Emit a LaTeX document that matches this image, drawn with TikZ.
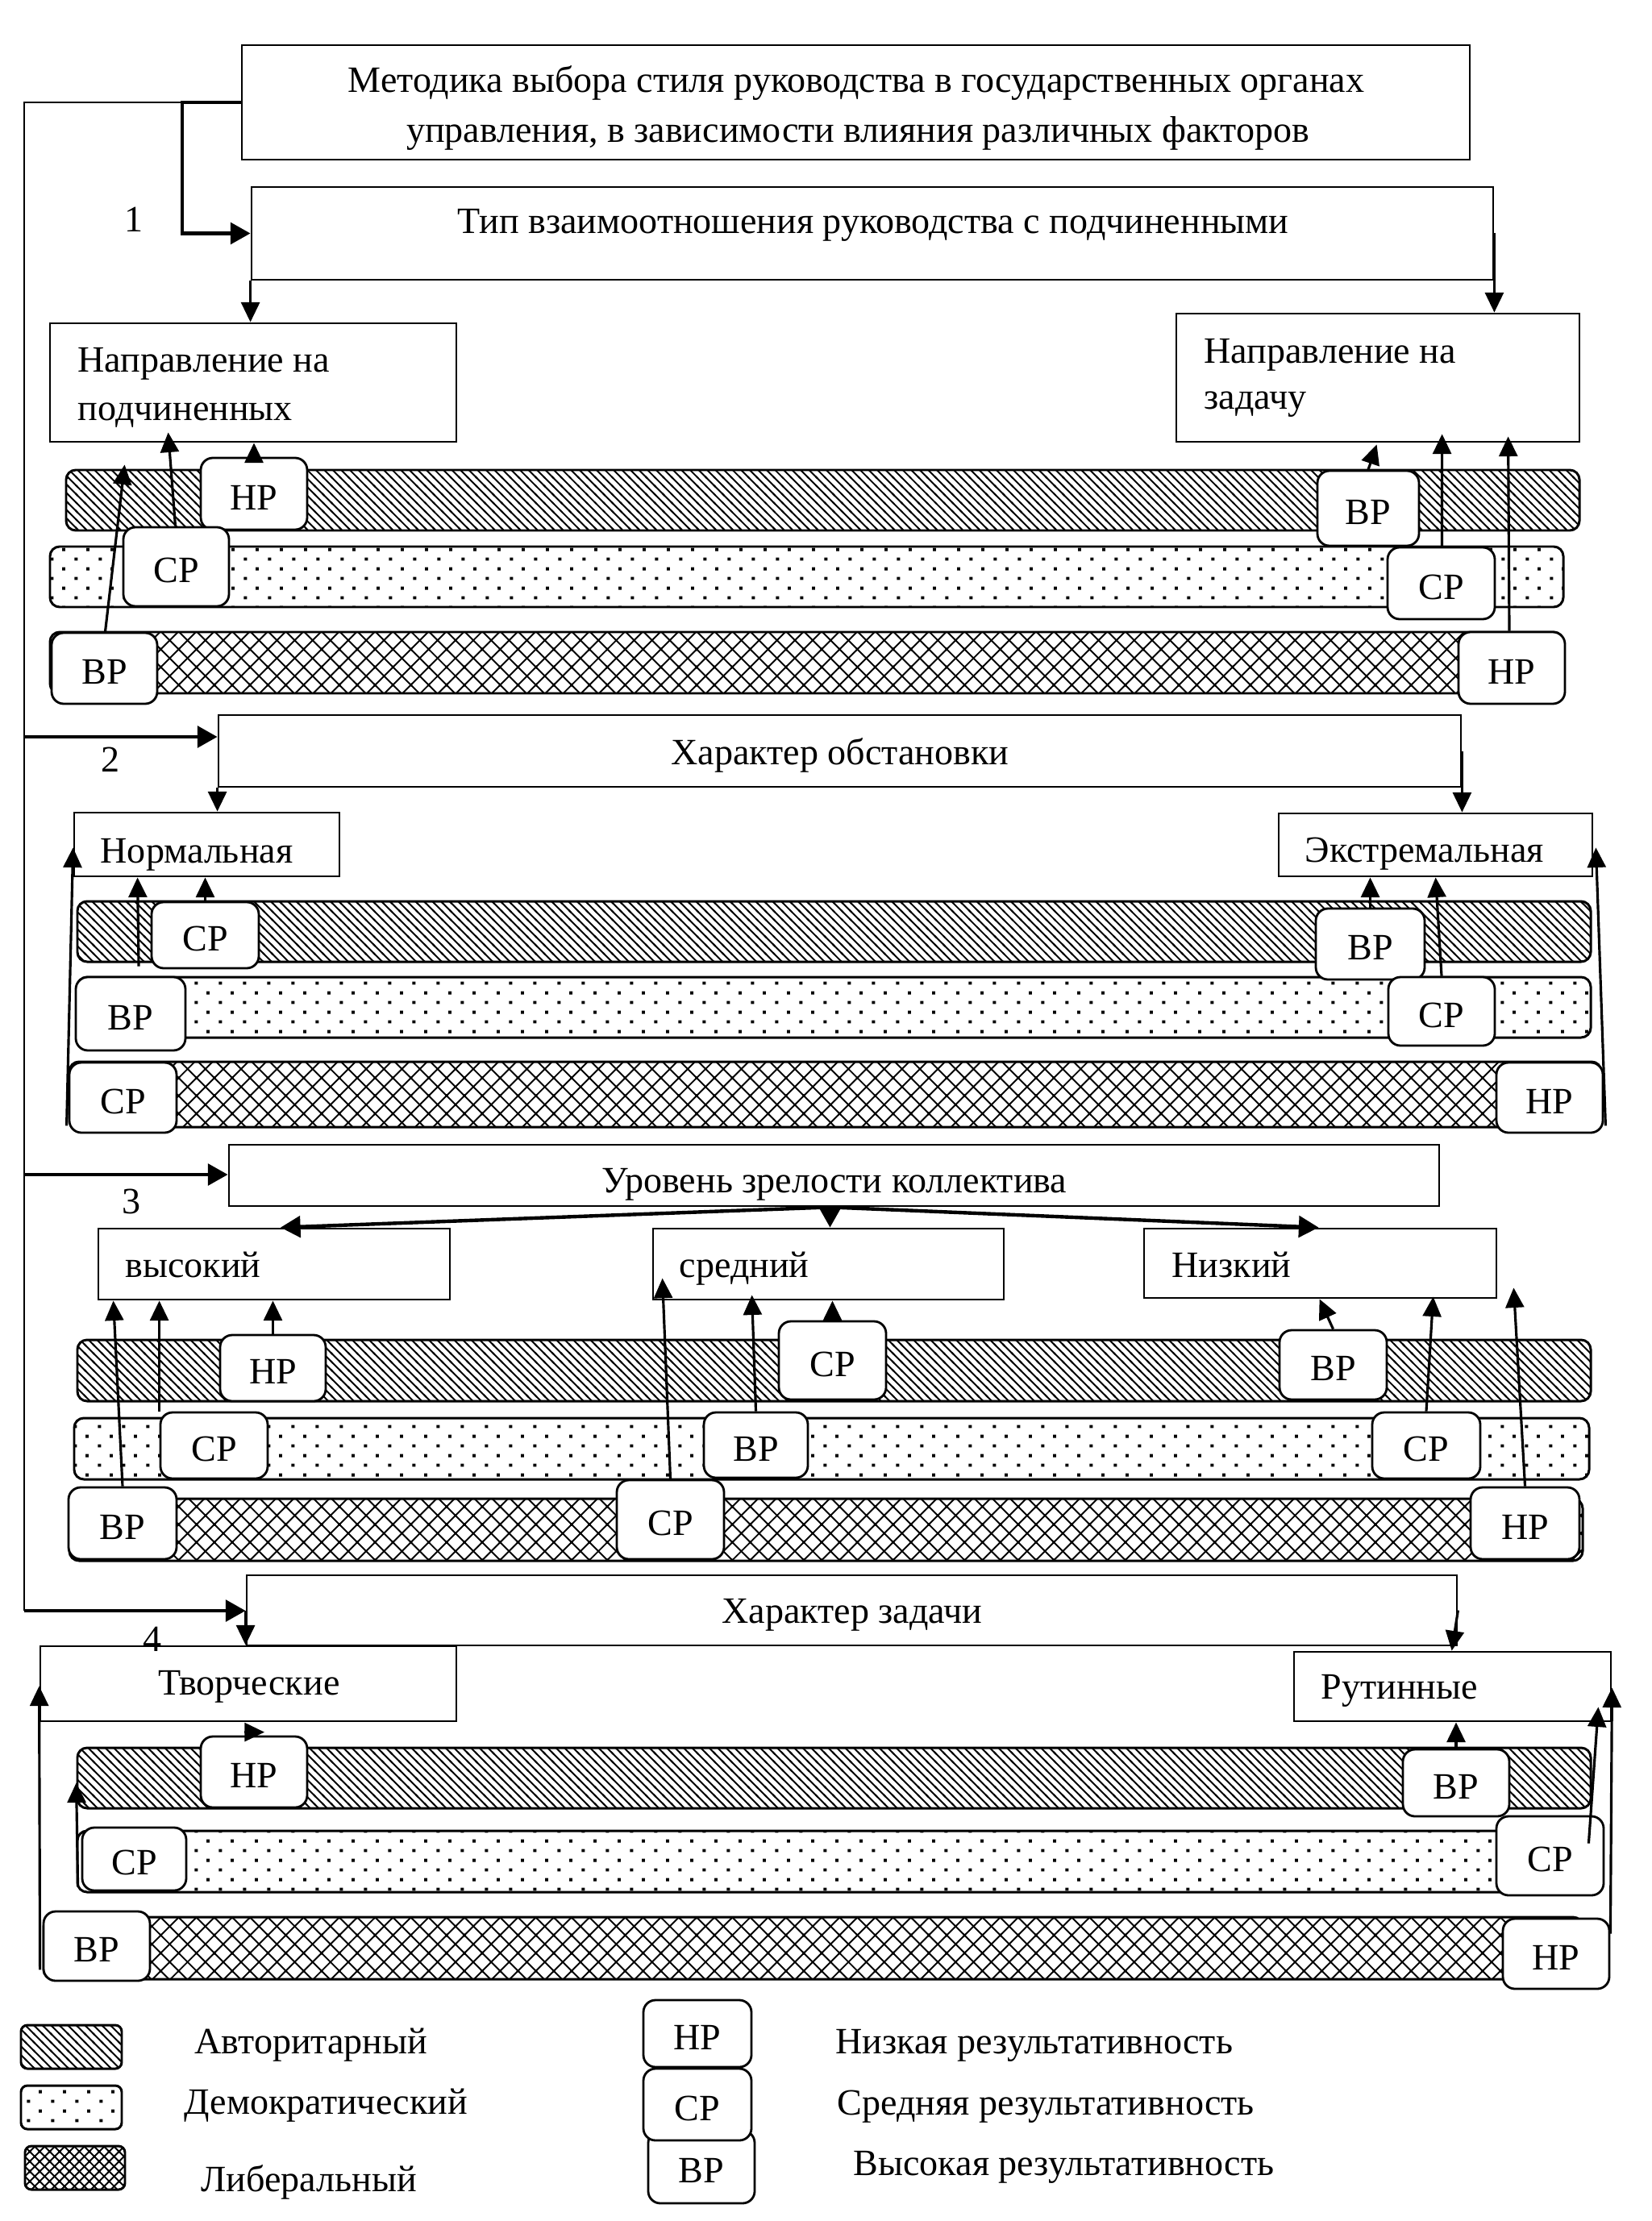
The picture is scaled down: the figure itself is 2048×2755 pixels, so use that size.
\documentclass[tikz,border=0pt]{standalone}
\usepackage{fontspec}
\setmainfont{Liberation Serif}
\usetikzlibrary{arrows.meta,patterns.meta,fit,calc}
\tikzdeclarepattern{
  name=authlines,
  type=uncolored,
  bounding box={(-0.5pt,-0.5pt) and (3.5pt,3.5pt)},
  tile size={(3pt,3pt)},
  code={\draw[line width=0.55pt] (-0.5pt,3.5pt) -- (3.5pt,-0.5pt);}
}
\tikzdeclarepattern{
  name=demdots,
  type=uncolored,
  bounding box={(0pt,0pt) and (8.4pt,6.8pt)},
  tile size={(8.4pt,6.8pt)},
  code={\fill (1pt,1pt) rectangle (2.1pt,2.1pt);
        \fill (5.2pt,4.4pt) rectangle (6.3pt,5.5pt);}
}
\tikzdeclarepattern{
  name=libdiam,
  type=uncolored,
  bounding box={(-0.5pt,-0.5pt) and (6.8pt,6.8pt)},
  tile size={(6.3pt,6.3pt)},
  code={\draw[line width=0.55pt] (-0.5pt,-0.5pt) -- (6.8pt,6.8pt) (-0.5pt,6.8pt) -- (6.8pt,-0.5pt);}
}
\tikzdeclarepattern{
  name=libdiamsmall,
  type=uncolored,
  bounding box={(-0.5pt,-0.5pt) and (4pt,4pt)},
  tile size={(3.5pt,3.5pt)},
  code={\draw[line width=0.55pt] (-0.5pt,-0.5pt) -- (4pt,4pt) (-0.5pt,4pt) -- (4pt,-0.5pt);}
}
\begin{document}
\begin{tikzpicture}[x=0.01cm,y=-0.01cm,
 font=\fontsize{13.1}{15.5}\selectfont,
 box/.style={draw,line width=0.8pt,inner sep=0pt},
 res/.style={draw,fill=white,line width=0.8pt,rounded corners=0.15cm,inner sep=0pt,
   label={[inner sep=0pt,yshift=-0.045cm]center:#1}},
 band/.style={draw,line width=0.85pt,rounded corners=0.12cm},
 lbl/.style={anchor=base west,inner sep=0pt},
 ctr/.style={anchor=base,inner sep=0pt},
 arr/.style={line width=0.9pt,-{Triangle[length=7pt,width=6.5pt]}},
 tarr/.style={line width=1.25pt,-{Triangle[length=7pt,width=7.5pt]}},
 spine/.style={line width=0.8pt}]

\fill[white] (0,0) rectangle (2048,2755);
\useasboundingbox (0,0) rectangle (2048,2755);

% ---------- bands ----------
\draw[band,pattern=authlines] (82,583) rectangle (1959,658);
\draw[band,pattern=demdots]   (62,678) rectangle (1939,753);
\draw[band,pattern=libdiam]   (62,784) rectangle (1939,860);

\draw[band,pattern=authlines] (96,1118) rectangle (1973,1193);
\draw[band,pattern=demdots]   (96,1212) rectangle (1973,1287);
\draw[band,pattern=libdiam]   (86,1317) rectangle (1986,1398);

\draw[band,pattern=authlines] (96,1662) rectangle (1973,1738);
\draw[band,pattern=demdots]   (92,1759) rectangle (1971,1835);
\draw[band,pattern=libdiam]   (86,1859) rectangle (1963,1936);

\draw[band,pattern=authlines] (96,2168) rectangle (1973,2243);
\draw[band,pattern=demdots]   (96,2271) rectangle (1960,2347);
\draw[band,pattern=libdiam]   (54,2378) rectangle (1963,2455);

% legend swatches
\draw[band,rounded corners=0.08cm,pattern=authlines] (26,2512) rectangle (151,2566);
\draw[band,rounded corners=0.08cm,pattern=demdots]   (26,2587) rectangle (151,2641);
\draw[band,rounded corners=0.08cm,pattern=libdiamsmall] (31,2662) rectangle (155,2716);

% ---------- category boxes ----------
\node[box,fit={(300,56) (1823,198)}] (met) {};
\node[box,fit={(312,232) (1852,347)}] (tip) {};
\node[box,fit={(62,401) (566,548)}] (napp) {};
\node[box,fit={(1459,389) (1959,548)}] (napz) {};

\node[box,fit={(271,887) (1812,976)}] (har) {};
\node[box,fit={(92,1008) (421,1087)}] (norm) {};
\node[box,fit={(1586,1009) (1975,1087)}] (ext) {};

\node[box,fit={(284,1420) (1785,1496)}] (ur) {};
\node[box,fit={(122,1524) (558,1612)}] (vys) {};
\node[box,fit={(810,1524) (1245,1612)}] (sred) {};
\node[box,fit={(1419,1524) (1856,1610)}] (nizk) {};

\node[box,fit={(306,1954) (1807,2041)}] (hz) {};
\node[box,fit={(50,2042) (566,2135)}] (tvor) {};
\node[box,fit={(1605,2049) (1998,2135)}] (rut) {};

% ---------- result boxes ----------
\node[res=НР,fit={(249,568) (381,657)}] (r1a) {};
\node[res=СР,fit={(153,654) (284,752)}] (r1b) {};
\node[res=ВР,fit={(64,785) (195,873)}] (r1c) {};
\node[res=ВР,fit={(1634,584) (1760,677)}] (r1d) {};
\node[res=СР,fit={(1721,679) (1854,768)}] (r1e) {};
\node[res=НР,fit={(1809,784) (1941,873)}] (r1f) {};

\node[res=СР,fit={(188,1119) (321,1201)}] (r2a) {};
\node[res=ВР,fit={(94,1212) (230,1303)}] (r2b) {};
\node[res=СР,fit={(86,1318) (219,1405)}] (r2c) {};
\node[res=ВР,fit={(1632,1127) (1767,1215)}] (r2d) {};
\node[res=СР,fit={(1722,1212) (1854,1297)}] (r2e) {};
\node[res=НР,fit={(1856,1318) (1988,1405)}] (r2f) {};

\node[res=НР,fit={(273,1656) (404,1738)}] (r3a) {};
\node[res=СР,fit={(199,1752) (332,1834)}] (r3b) {};
\node[res=ВР,fit={(85,1845) (219,1934)}] (r3c) {};
\node[res=СР,fit={(966,1639) (1099,1736)}] (r3d) {};
\node[res=ВР,fit={(873,1752) (1002,1833)}] (r3e) {};
\node[res=СР,fit={(765,1836) (898,1934)}] (r3f) {};
\node[res=ВР,fit={(1587,1650) (1720,1736)}] (r3g) {};
\node[res=СР,fit={(1702,1752) (1836,1834)}] (r3h) {};
\node[res=НР,fit={(1824,1845) (1959,1934)}] (r3i) {};

\node[res=НР,fit={(249,2154) (381,2242)}] (r4a) {};
\node[res=СР,fit={(102,2267) (231,2345)}] (r4b) {};
\node[res=ВР,fit={(54,2371) (186,2457)}] (r4c) {};
\node[res=ВР,fit={(1740,2170) (1872,2253)}] (r4d) {};
\node[res=СР,fit={(1856,2253) (1989,2351)}] (r4e) {};
\node[res=НР,fit={(1864,2380) (1996,2467)}] (r4f) {};

% legend result boxes
\node[res=ВР,fit={(804,2643) (936,2733)}] (lvr) {};
\node[res=СР,fit={(798,2566) (932,2655)}] (lsr) {};
\node[res=НР,fit={(798,2481) (932,2564)}] (lnr) {};

% ---------- spine and numbered arrows ----------
\coordinate (k1) at (226,127);
\coordinate (sp) at (30,1998);
\coordinate (s2) at (30,914);
\coordinate (s3) at (30,1457);
\draw[spine] (met.west) -| (sp);
\draw[tarr] (met.west) -- (k1) |- (tip.west);
\draw[tarr] (s2) -- (s2 -| har.west);
\draw[tarr] (s3) -- (s3 -| ur.west);
\draw[tarr] (sp) -- (sp -| hz.west);

% section 1
\draw[arr] (tip.south west) -- (napp.north -| tip.south west);
\draw[arr] (tip.east) -- (tip.east |- napz.north);
\draw[arr] (r1a.north) -- (r1a.north |- napp.south);
\draw[arr] ($(r1b.north)+(-1,0)$) -- ($(napp.south west)+(148,-13)$);
\draw[arr] ($(r1c.north)+(1,0)$) -- ($(napp.south west)+(94,27)$);
\draw[arr] (r1d.north) -- ($(napz.south west)+(250,2)$);
\draw[arr] ($(r1e.north)+(1,0)$) -- ($(napz.south west)+(331,-11)$);
\draw[arr] ($(r1f.north)+(-3,0)$) -- ($(napz.south west)+(413,-8)$);

% section 2
\draw[arr] (har.south west) -- (norm.north -| har.south west);
\draw[arr] (har.east) -- (har.east |- ext.north);
\draw[arr] (r2a.north) -- (r2a.north |- norm.south);
\draw[arr] ($(r2b.north)+(10,-12)$) -- ($(norm.south west)+(80,0)$);
\draw[arr] ($(r2c.south west)+(-2,-10)$) -- ($(norm.south west)+(0,-37)$);
\draw[arr] (r2d.north) -- (r2d.north |- ext.south);
\draw[arr] (r2e.north) -- ($(ext.south west)+(196,0)$);
\draw[arr] ($(r2f.south east)+(2,-10)$) -- ($(ext.south east)+(3,-37)$);

% section 3
\draw[tarr] ($(ur.south)+(-5,0)$) -- ($(vys.north)+(8,0)$);
\draw[tarr] ($(ur.south)+(-5,0)$) -- ($(sred.north)+(2,0)$);
\draw[tarr] ($(ur.south)+(-5,0)$) -- ($(nizk.north)+(-2,0)$);
\draw[arr] (r3a.north) -- (r3a.north |- vys.south);
\draw[arr] (r3b.north west) -- (r3b.north west |- vys.south);
\draw[arr] (r3c.north) -- ($(vys.south west)+(20,0)$);
\draw[arr] (r3d.north) -- (r3d.north |- sred.south);
\draw[arr] (r3e.north) -- ($(sred.south west)+(124,-7)$);
\draw[arr] (r3f.north) -- ($(sred.north west)+(13,63)$);
\draw[arr] (r3g.north) -- ($(nizk.south west)+(219,0)$);
\draw[arr] (r3h.north) -- ($(nizk.south west)+(360,-3)$);
\draw[arr] (r3i.north) -- ($(nizk.south east)+(20,-14)$);

% section 4
\draw[arr] (hz.west) -- (hz.west |- tvor.north);
\draw[arr] (hz.east) -- ($(rut.north west)+(197,0)$);
\draw[arr] ($(r4a.north)+(-12,-4)$) -- ($(r4a.north)+(13,-4)$);
\draw[arr] ($(r4b.south west)+(-4,-6)$) -- ($(tvor.south west)+(46,75)$);
\draw[arr] ($(r4c.south west)+(-3,-15)$) -- ($(tvor.south west)+(0,-45)$);
\draw[arr] (r4d.north) -- (r4d.north |- rut.south);
\draw[arr] ($(r4e.north east)+(-20,35)$) -- ($(rut.south east)+(-17,-19)$);
\draw[arr] ($(r4f.north east)+(0,20)$) -- ($(rut.south east)+(0,-43)$);

% ---------- texts ----------
\node[ctr] (t0a) at (1062,115) {Методика выбора стиля руководства в государственных органах};
\node[ctr] (t0b) at (1064,177) {управления, в зависимости влияния различных факторов};
\node[ctr] (t1) at (1083,290) {Тип взаимоотношения руководства с подчиненными};
\node[lbl] (t2) at (96,462) {Направление на};
\node[lbl] (t3) at (96,522) {подчиненных};
\node[lbl] (t4) at (1493,451) {Направление на};
\node[lbl] (t5) at (1493,508) {задачу};
\node[ctr] (n1) at (166,288) {1};

\node[ctr] (t6) at (1042,948) {Характер обстановки};
\node[lbl] (t7) at (124,1070) {Нормальная};
\node[lbl] (t8) at (1618,1069) {Экстремальная};
\node[ctr] (n2) at (137,957) {2};

\node[ctr] (t9) at (1035,1479) {Уровень зрелости коллектива};
\node[lbl] (t10) at (155,1584) {высокий};
\node[lbl] (t11) at (842,1584) {средний};
\node[lbl] (t12) at (1453,1584) {Низкий};
\node[ctr] (n3) at (163,1505) {3};

\node[ctr] (t13) at (1057,2013) {Характер задачи};
\node[ctr] (t14) at (309,2102) {Творческие};
\node[lbl] (t15) at (1638,2107) {Рутинные};
\node[ctr] (n4) at (189,2048) {4};

\node[lbl] (g1) at (241,2547) {Авторитарный};
\node[lbl] (g2) at (228,2622) {Демократический};
\node[lbl] (g3) at (249,2718) {Либеральный};
\node[lbl] (g4) at (1036,2547) {Низкая результативность};
\node[lbl] (g5) at (1038,2623) {Средняя результативность};
\node[lbl] (g6) at (1058,2698) {Высокая результативность};
\end{tikzpicture}
\end{document}
